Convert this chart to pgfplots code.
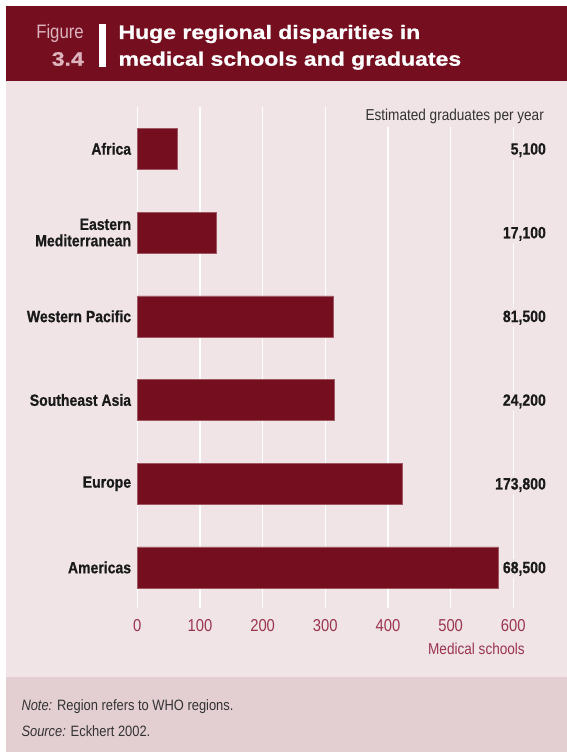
\documentclass[border=0pt]{standalone}
\usepackage{fontspec}
\setmainfont{Liberation Sans}[FakeStretch=0.86, BoldFeatures={FakeBold=0.6}]
\newfontfamily\headfont{Liberation Sans}[FakeStretch=1.18, BoldFeatures={FakeBold=0.8}]
\usepackage{pgfplots}
\pgfplotsset{compat=1.18}

\definecolor{wine}{HTML}{750F20}
\definecolor{panel}{HTML}{F0E4E6}
\definecolor{footband}{HTML}{E3CED2}
\definecolor{tickred}{HTML}{9B3450}
\definecolor{figpink}{HTML}{DDB3BE}
\definecolor{ink}{HTML}{1A1A1A}
\definecolor{notegray}{HTML}{333333}

\begin{document}
\begin{tikzpicture}
% frame: white margin, header band, chart panel, note band
\fill[white] (0pt,0pt) rectangle (567pt,752pt);
\fill[panel] (6pt,75pt) rectangle (567pt,671pt);
\fill[wine] (6pt,671pt) rectangle (567pt,746pt);
\fill[footband] (6pt,0pt) rectangle (567pt,75pt);

% heading
\node[anchor=base east, inner sep=0pt, text=figpink,
      font=\fontsize{19.5}{20}\selectfont] at (84pt,713pt) {Figure};
\node[anchor=base east, inner sep=0pt, text=figpink,
      font=\headfont\bfseries\fontsize{19.5}{20}\selectfont] at (84pt,686.3pt) {3.4};
\fill[white] (98.7pt,728pt) rectangle (106pt,685.3pt);
\node[anchor=base west, inner sep=0pt, text=white,
      font=\headfont\bfseries\fontsize{19.5}{20}\selectfont] at (118.3pt,713pt) {Huge regional disparities in};
\node[anchor=base west, inner sep=0pt, text=white,
      font=\headfont\bfseries\fontsize{19.5}{20}\selectfont] at (118.3pt,686.3pt) {medical schools and graduates};

\begin{axis}[
  at={(137.3pt,144pt)}, anchor=south west,
  scale only axis, width=376pt, height=501pt,
  xmin=0, xmax=600, ymin=-0.484, ymax=5.5,
  enlargelimits=false, clip=false,
  xbar, bar width=41pt,
  axis line style={draw=none},
  major tick length=0pt,
  xtick={0,100,...,600},
  xmajorgrids, grid style={white, line width=1.4pt},
  ytick={0,1,2,3,4,5},
  yticklabels={Americas, Europe, Southeast Asia, Western Pacific, {Eastern\\Mediterranean}, Africa},
  yticklabel style={font=\bfseries\fontsize{16.3}{16.4}\selectfont, text=ink,
                    align=right, inner sep=0pt, xshift=-6pt},
  xticklabel style={font=\fontsize{17.2}{18}\selectfont, text=tickred,
                    anchor=base, inner sep=0pt, yshift=-23.7pt},
  /pgf/number format/assume math mode=true,
]
% number of medical schools per region
\addplot[fill=wine, draw=wine!70!white, line width=0.5pt] coordinates {
  (576,0) (423,1) (315,2) (312,3) (126,4) (64,5)
};

% estimated graduates per year
\begin{scope}[every node/.style={anchor=base east, fill=panel, inner xsep=3pt, inner ysep=2.5pt,
      text=ink, font=\bfseries\fontsize{16.3}{17}\selectfont, yshift=-5.7pt}]
\node at (axis cs:657,5) {5,100};
\node at (axis cs:657,4) {17,100};
\node at (axis cs:657,3) {81,500};
\node at (axis cs:657,2) {24,200};
\node at (axis cs:657,1) {173,800};
\node at (axis cs:657,0) {68,500};
\end{scope}

\node[anchor=base east, fill=panel, inner xsep=3pt, inner ysep=3pt, text=notegray,
      font=\fontsize{15.8}{16}\selectfont] at (axis cs:653.8,5.335) {Estimated graduates per year};
\node[anchor=base east, inner sep=0pt, text=tickred,
      font=\fontsize{15.8}{16}\selectfont] at (axis cs:618.7,-1.041) {Medical schools};
\end{axis}

% notes
\node[anchor=base west, inner sep=0pt, text=notegray, font=\fontsize{15}{16}\selectfont]
  at (21.3pt,41.3pt) {{\itshape Note:} Region refers to WHO regions.};
\node[anchor=base west, inner sep=0pt, text=notegray, font=\fontsize{15}{16}\selectfont]
  at (21.3pt,15.3pt) {{\itshape Source:} Eckhert 2002.};
\end{tikzpicture}
\end{document}
